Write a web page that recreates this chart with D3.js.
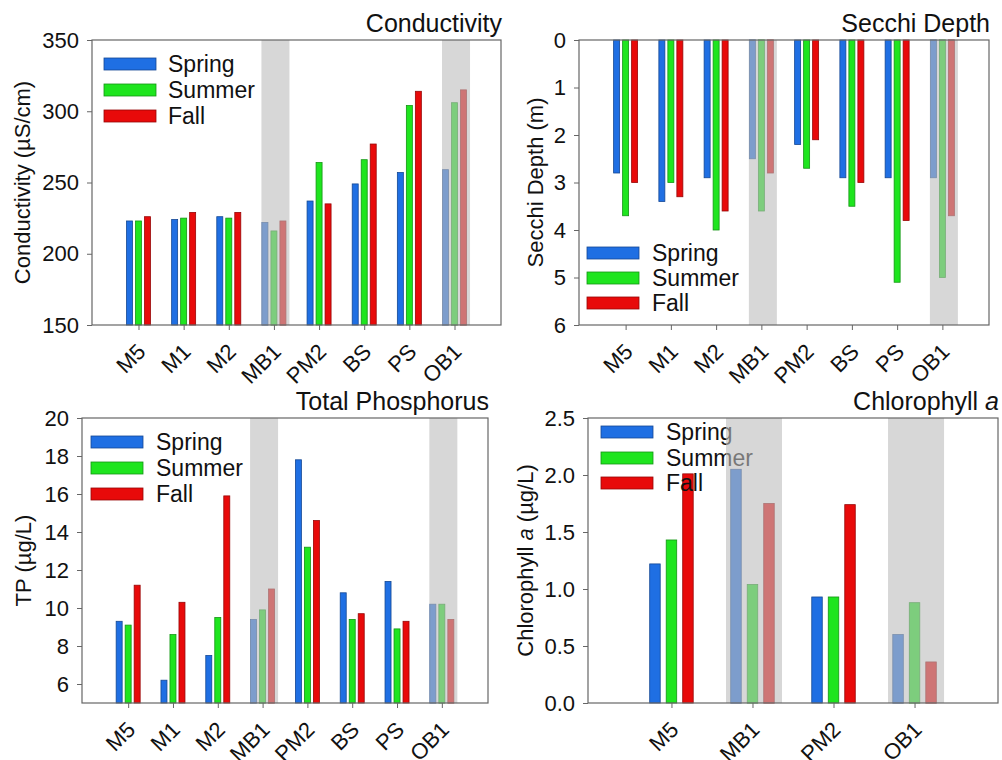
<!DOCTYPE html>
<html><head><meta charset="utf-8">
<script src="https://cdn.jsdelivr.net/npm/d3@7"></script>
<style>
body{margin:0;background:#fff;}
svg{display:block;font-family:"Liberation Sans",Arial,sans-serif;}
</style></head>
<body><svg id="c" width="1002" height="760"></svg>
<script>
const sites = ["M5","M1","M2","MB1","PM2","BS","PS","OB1"];
const chlSites = ["M5","MB1","PM2","OB1"];
const seasons = ["Spring","Summer","Fall"];
const shaded = ["MB1","OB1"];

const condSpring = [223,224,226,222,237,249,257,259];
const condSummer = [223,225,225,216,264,266,304,306];
const condFall   = [226,229,229,223,235,277,314,315];

const secSpring = [2.8,3.4,2.9,2.5,2.2,2.9,2.9,2.9];
const secSummer = [3.7,3.0,4.0,3.6,2.7,3.5,5.1,5.0];
const secFall   = [3.0,3.3,3.6,2.8,2.1,3.0,3.8,3.7];

const tpSpring = [9.3,6.2,7.5,9.4,17.8,10.8,11.4,10.2];
const tpSummer = [9.1,8.6,9.5,9.9,13.2,9.4,8.9,10.2];
const tpFall   = [11.2,10.3,15.9,11.0,14.6,9.7,9.3,9.4];

const chlSpring = [1.22,2.05,0.93,0.60];
const chlSummer = [1.43,1.04,0.93,0.88];
const chlFall   = [2.01,1.75,1.74,0.36];

const condTicks = [150,200,250,300,350];
const secTicks = [0,1,2,3,4,5,6];
const tpTicks = [6,8,10,12,14,16,18,20];
const chlTicks = [0,0.5,1.0,1.5,2.0,2.5];

const colors = {Spring:"#1f6fe3", Summer:"#1ee51e", Fall:"#e80a0a"};

const svg = d3.select("#c");

const panels = [
  {cats:sites, series:[condSpring,condSummer,condFall], domain:[150,350], base:150, ticks:condTicks, fmt:d3.format("d"),
   L:92,R:501,T:40,B:325, bw:6, pitch:9, band:28, title:"Conductivity", titleY:32,
   ylabel:[{t:"Conductivity (µS/cm)"}], ylx:22,
   leg:{x:104, y:[64,90,116], tx:168}},
  {cats:sites, series:[secSpring,secSummer,secFall], domain:[0,6], base:0, ticks:secTicks, fmt:d3.format("d"), invert:true,
   L:579,R:989,T:40,B:325, bw:6, pitch:9, band:28, title:"Secchi Depth", titleY:32,
   ylabel:[{t:"Secchi Depth (m)"}], ylx:535,
   leg:{x:587, y:[253,278,303], tx:652}},
  {cats:sites, series:[tpSpring,tpSummer,tpFall], domain:[5,20], base:5, ticks:tpTicks, fmt:d3.format("d"),
   L:82,R:488,T:418,B:703, bw:6, pitch:9, band:28, title:"Total Phosphorus", titleY:410,
   ylabel:[{t:"TP (µg/L)"}], ylx:23,
   leg:{x:91, y:[442,468,494], tx:156}},
  {cats:chlSites, series:[chlSpring,chlSummer,chlFall], domain:[0,2.5], base:0, ticks:chlTicks, fmt:d3.format(".1f"),
   L:588,R:998,T:418,B:703, bw:10.5, pitch:16.5, band:56, title:[{t:"Chlorophyll "},{t:"a",i:true}], titleY:410,
   ylabel:[{t:"Chlorophyll "},{t:"a",i:true},{t:" (µg/L)"}], ylx:525,
   leg:{x:601, y:[432,458,483], tx:666}}
];

panels.forEach(p => {
  const g = svg.append("g");
  const x = d3.scalePoint().domain(p.cats).range([p.L,p.R]).padding(1.03);
  const y = d3.scaleLinear().domain(p.domain).range(p.invert ? [p.T,p.B] : [p.B,p.T]);

  // bars
  seasons.forEach((s,si) => {
    g.selectAll(null).data(p.cats.map((c,i)=>({c, v:p.series[si][i]}))).enter()
      .append("rect")
      .attr("x", d => x(d.c) + (si-1)*p.pitch - p.bw/2)
      .attr("width", p.bw)
      .attr("y", d => Math.min(y(d.v), y(p.base)))
      .attr("height", d => Math.abs(y(d.v) - y(p.base)))
      .attr("fill", colors[s])
      .attr("stroke", d3.color(colors[s]).darker(1.2))
      .attr("stroke-width", 0.8);
  });

  // legend
  seasons.forEach((s,si) => {
    g.append("rect").attr("x", p.leg.x).attr("y", p.leg.y[si]-6).attr("width",52).attr("height",12)
      .attr("fill", colors[s]).attr("stroke", d3.color(colors[s]).darker(1.2)).attr("stroke-width",0.8);
    g.append("text").attr("x", p.leg.tx).attr("y", p.leg.y[si]).attr("dy","0.36em")
      .attr("font-size",23).attr("fill","#111").text(s);
  });

  // shaded overlay bands
  g.selectAll(null).data(shaded.filter(c => p.cats.includes(c))).enter()
    .append("rect")
    .attr("x", d => x(d) - p.band/2 + 1.5)
    .attr("width", p.band)
    .attr("y", p.T).attr("height", p.B - p.T)
    .attr("fill", "#bcbcbc").attr("opacity", 0.6);

  // axes
  const ya = g.append("g").attr("transform", `translate(${p.L},0)`)
    .call(d3.axisLeft(y).tickValues(p.ticks).tickFormat(p.fmt).tickSize(5).tickSizeOuter(0));
  ya.select(".domain").remove();
  ya.selectAll("line").attr("stroke","#666");
  ya.selectAll("text").attr("font-size",22).attr("fill","#111").attr("x",-13)
    .attr("font-family",'"Liberation Sans",Arial,sans-serif');

  const xa = g.append("g").attr("transform", `translate(0,${p.B})`)
    .call(d3.axisBottom(x).tickSize(5).tickSizeOuter(0));
  xa.select(".domain").remove();
  xa.selectAll("line").attr("stroke","#666");
  xa.selectAll("text").attr("font-size",22).attr("fill","#111")
    .attr("font-family",'"Liberation Sans",Arial,sans-serif')
    .attr("text-anchor","end").attr("dy",null).attr("y",null)
    .attr("transform","translate(8,28) rotate(-45)");

  // frame
  g.append("rect").attr("x",p.L).attr("y",p.T).attr("width",p.R-p.L).attr("height",p.B-p.T)
    .attr("fill","none").attr("stroke","#666").attr("stroke-width",1.2);

  // title
  const tt = g.append("text").attr("x", p.R+1).attr("y", p.titleY).attr("text-anchor","end")
    .attr("font-size",25).attr("fill","#111");
  if (typeof p.title === "string") tt.text(p.title);
  else p.title.forEach(s => tt.append("tspan").attr("font-style", s.i ? "italic":null).text(s.t));

  // y label
  const yl = g.append("text").attr("transform", `translate(${p.ylx},${(p.T+p.B)/2}) rotate(-90)`)
    .attr("text-anchor","middle").attr("dy","0.36em").attr("font-size",22).attr("fill","#111");
  p.ylabel.forEach(s => yl.append("tspan").attr("font-style", s.i ? "italic":null).text(s.t));
});
</script></body></html>
